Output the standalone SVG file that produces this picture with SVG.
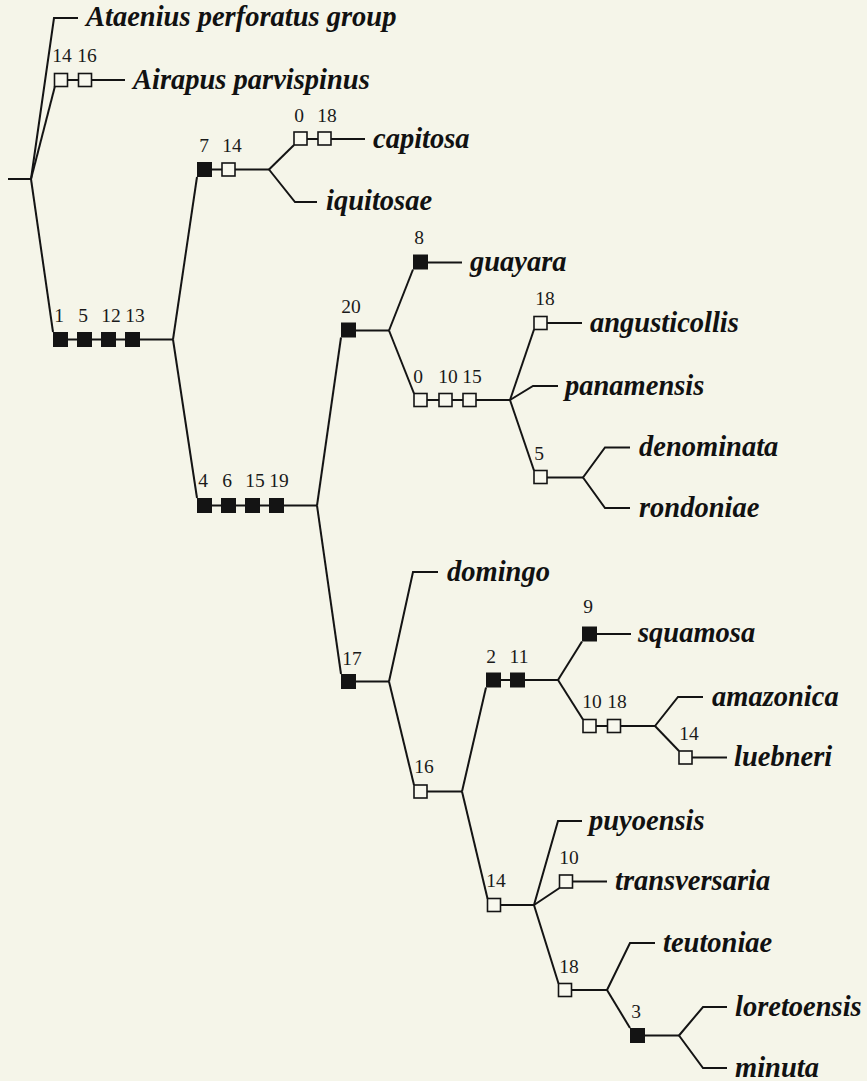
<svg xmlns="http://www.w3.org/2000/svg" width="867" height="1081" viewBox="0 0 867 1081">
<style>
.e{fill:none;stroke:#141414;stroke-width:2;stroke-linejoin:miter;stroke-linecap:butt}
.f{fill:#141414}
.o{fill:#f8f8ee;stroke:#141414;stroke-width:1.6}
.sp{font-family:"Liberation Serif","Times New Roman",serif;font-weight:bold;font-style:italic;font-size:28.5px;fill:#111}
.n{font-family:"Liberation Serif","Times New Roman",serif;font-size:19.5px;fill:#1a1a1a;text-anchor:middle}
</style>
<rect width="867" height="1081" fill="#f5f5e9"/>
<g id="connectors" class="e">
<path d="M8,179H31"/>
<path d="M31,179L54,18H78"/>
<path d="M31,179L55,86"/><path d="M61,80H125"/>
<path d="M31,179L53,332"/><path d="M60,339.5H173"/>
<path d="M173,339.5L197,177"/><path d="M204,169.5H269"/>
<path d="M173,339.5L197,498"/><path d="M204,505.5H317"/>
<path d="M269,169.5L294,145"/><path d="M300,139H365"/>
<path d="M269,169.5L295,202H317"/>
<path d="M317,505.5L341,337.5"/><path d="M348,330.5H389"/>
<path d="M317,505.5L341,674"/><path d="M348,681.5H389"/>
<path d="M389,330.5L413,269.5"/><path d="M420,262.5H462"/>
<path d="M389,330.5L414,393.5"/><path d="M420,400H510"/>
<path d="M510,400L534,329.5"/><path d="M540,323H582"/>
<path d="M510,400L533,386H558"/>
<path d="M510,400L534,470.5"/><path d="M540,477.5H583"/>
<path d="M583,477.5L605,447.5H630"/>
<path d="M583,477.5L605,508H630"/>
<path d="M389,681.5L413,572H438"/>
<path d="M389,681.5L414,785"/><path d="M420,791.5H462"/>
<path d="M462,791.5L486,687.5"/><path d="M493,680H558"/>
<path d="M462,791.5L487.5,898.5"/><path d="M494,905H534"/>
<path d="M558,680L582,641.5"/><path d="M589,634H631"/>
<path d="M558,680L583,719.5"/><path d="M589,726H655"/>
<path d="M655,726L678,697H703"/>
<path d="M655,726L679,751"/><path d="M685,757.5H727"/>
<path d="M534,905L558,821H582"/>
<path d="M534,905L559.5,888"/><path d="M566,881.5H607"/>
<path d="M534,905L558.5,983.5"/><path d="M565,990H607"/>
<path d="M607,990L630,943H655"/>
<path d="M607,990L630,1028"/><path d="M637.5,1035.5H679"/>
<path d="M679,1035.5L703,1007H727"/>
<path d="M679,1035.5L703,1068H727"/>
</g>
<g id="chars-airapus">
<rect class="o" x="54.5" y="73.5" width="13" height="13"/><rect class="o" x="78.5" y="73.5" width="13" height="13"/>
<text class="n" x="62" y="62">14</text><text class="n" x="87" y="62">16</text>
</g>
<g id="chars-ingroup">
<rect class="f" x="53" y="332" width="15" height="15"/><rect class="f" x="77" y="332" width="15" height="15"/><rect class="f" x="101" y="332" width="15" height="15"/><rect class="f" x="125" y="332" width="15" height="15"/>
<text class="n" x="59" y="322">1</text><text class="n" x="83" y="322">5</text><text class="n" x="111" y="322">12</text><text class="n" x="135" y="322">13</text>
</g>
<g id="chars-capitosa-clade">
<rect class="f" x="197" y="162" width="15" height="15"/><rect class="o" x="222" y="163" width="13" height="13"/>
<text class="n" x="204" y="152">7</text><text class="n" x="232" y="152">14</text>
</g>
<g id="chars-capitosa">
<rect class="o" x="294" y="132" width="13" height="13"/><rect class="o" x="318" y="132" width="13" height="13"/>
<text class="n" x="299" y="122">0</text><text class="n" x="327" y="122">18</text>
</g>
<g id="chars-clade-c">
<rect class="f" x="197" y="498" width="15" height="15"/><rect class="f" x="221" y="498" width="15" height="15"/><rect class="f" x="245" y="498" width="15" height="15"/><rect class="f" x="269" y="498" width="15" height="15"/>
<text class="n" x="203" y="487">4</text><text class="n" x="227" y="487">6</text><text class="n" x="255" y="487">15</text><text class="n" x="279" y="487">19</text>
</g>
<g id="chars-clade-d">
<rect class="f" x="341" y="322.5" width="15" height="15"/>
<text class="n" x="351" y="313">20</text>
</g>
<g id="chars-guayara">
<rect class="f" x="413" y="254.5" width="15" height="15"/>
<text class="n" x="419" y="244">8</text>
</g>
<g id="chars-clade-e">
<rect class="o" x="414" y="393.5" width="13" height="13"/><rect class="o" x="439" y="393.5" width="13" height="13"/><rect class="o" x="463" y="393.5" width="13" height="13"/>
<text class="n" x="418" y="383">0</text><text class="n" x="448" y="383">10</text><text class="n" x="472" y="383">15</text>
</g>
<g id="chars-angusticollis">
<rect class="o" x="534" y="316.5" width="13" height="13"/>
<text class="n" x="545" y="305">18</text>
</g>
<g id="chars-clade-f">
<rect class="o" x="534" y="470.5" width="13" height="13"/>
<text class="n" x="539" y="460">5</text>
</g>
<g id="chars-clade-g">
<rect class="f" x="341" y="674" width="15" height="15"/>
<text class="n" x="352" y="665">17</text>
</g>
<g id="chars-clade-h">
<rect class="o" x="414" y="785" width="13" height="13"/>
<text class="n" x="424" y="773">16</text>
</g>
<g id="chars-clade-i">
<rect class="f" x="486" y="672.5" width="15" height="15"/><rect class="f" x="510" y="672.5" width="15" height="15"/>
<text class="n" x="491" y="663">2</text><text class="n" x="519" y="663">11</text>
</g>
<g id="chars-squamosa">
<rect class="f" x="582" y="626.5" width="15" height="15"/>
<text class="n" x="588" y="613">9</text>
</g>
<g id="chars-clade-j">
<rect class="o" x="583" y="719.5" width="13" height="13"/><rect class="o" x="607.5" y="719.5" width="13" height="13"/>
<text class="n" x="592" y="708">10</text><text class="n" x="617" y="708">18</text>
</g>
<g id="chars-luebneri">
<rect class="o" x="679" y="751" width="13" height="13"/>
<text class="n" x="689" y="740">14</text>
</g>
<g id="chars-clade-k">
<rect class="o" x="487.5" y="898.5" width="13" height="13"/>
<text class="n" x="496" y="887">14</text>
</g>
<g id="chars-transversaria">
<rect class="o" x="559.5" y="875" width="13" height="13"/>
<text class="n" x="569" y="864">10</text>
</g>
<g id="chars-clade-l">
<rect class="o" x="558.5" y="983.5" width="13" height="13"/>
<text class="n" x="569" y="973">18</text>
</g>
<g id="chars-clade-m">
<rect class="f" x="630" y="1028" width="15" height="15"/>
<text class="n" x="636" y="1018">3</text>
</g>
<g id="leaf-ataenius"><text class="sp" x="86" y="26">Ataenius perforatus group</text></g>
<g id="leaf-airapus"><text class="sp" x="133" y="89">Airapus parvispinus</text></g>
<g id="leaf-capitosa"><text class="sp" x="373" y="148">capitosa</text></g>
<g id="leaf-iquitosae"><text class="sp" x="326" y="210">iquitosae</text></g>
<g id="leaf-guayara"><text class="sp" x="470" y="271">guayara</text></g>
<g id="leaf-angusticollis"><text class="sp" x="590" y="332">angusticollis</text></g>
<g id="leaf-panamensis"><text class="sp" x="565" y="395">panamensis</text></g>
<g id="leaf-denominata"><text class="sp" x="639" y="456">denominata</text></g>
<g id="leaf-rondoniae"><text class="sp" x="639" y="517">rondoniae</text></g>
<g id="leaf-domingo"><text class="sp" x="447" y="581">domingo</text></g>
<g id="leaf-squamosa"><text class="sp" x="638" y="642">squamosa</text></g>
<g id="leaf-amazonica"><text class="sp" x="712" y="706">amazonica</text></g>
<g id="leaf-luebneri"><text class="sp" x="734" y="766">luebneri</text></g>
<g id="leaf-puyoensis"><text class="sp" x="589" y="830">puyoensis</text></g>
<g id="leaf-transversaria"><text class="sp" x="615" y="890">transversaria</text></g>
<g id="leaf-teutoniae"><text class="sp" x="663" y="952">teutoniae</text></g>
<g id="leaf-loretoensis"><text class="sp" x="735" y="1016">loretoensis</text></g>
<g id="leaf-minuta"><text class="sp" x="735" y="1077">minuta</text></g>
</svg>
